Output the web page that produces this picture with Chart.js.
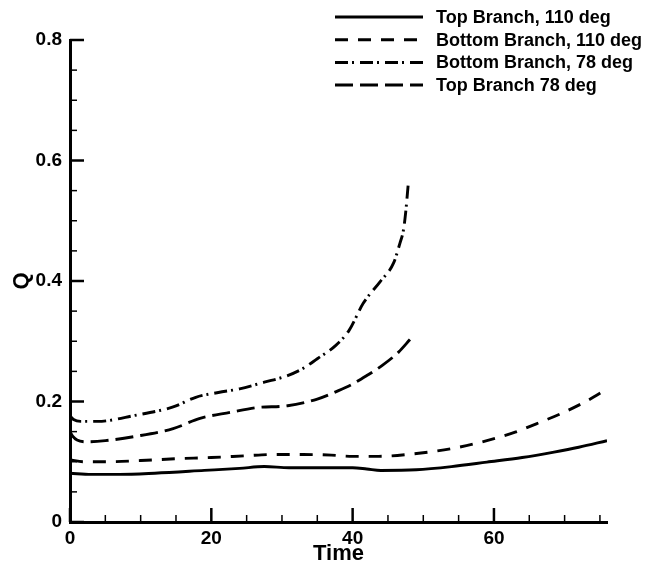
<!DOCTYPE html>
<html>
<head>
<meta charset="utf-8">
<script src="https://cdn.jsdelivr.net/npm/chart.js@4.4.0/dist/chart.umd.min.js"></script>
<style>
  html, body { margin: 0; padding: 0; background: #fff; }
</style>
</head>
<body>
<canvas id="qChart" width="652" height="566"></canvas>
<script>
// Q vs Time for the two branches at 110 and 78 deg
const topBranch110Time = [0, 3, 7, 12, 19, 24, 27.5, 31, 36, 40, 42, 44, 49, 54, 59, 64, 68.5, 72, 76];
const topBranch110Q = [0.081, 0.079, 0.079, 0.081, 0.0856, 0.089, 0.092, 0.090, 0.090, 0.090, 0.088, 0.0856, 0.0867, 0.092, 0.0994, 0.107, 0.116, 0.124, 0.135];

const bottomBranch110Time = [0, 2, 5, 10, 15, 20, 25, 28.6, 33, 37, 40, 43.7, 48.5, 52, 55, 59, 63, 66, 69.5, 73, 76];
const bottomBranch110Q = [0.103, 0.100, 0.100, 0.102, 0.105, 0.107, 0.110, 0.112, 0.112, 0.111, 0.109, 0.109, 0.113, 0.118, 0.124, 0.135, 0.149, 0.163, 0.180, 0.200, 0.221];

const bottomBranch78Time = [0, 0.5, 1.5, 3.9, 9.2, 14.6, 17.8, 21, 24, 27.5, 30.8, 33, 35, 37.5, 39.5, 41.5, 43.9, 45.8, 46.7, 47.2, 47.5, 47.9];
const bottomBranch78Q = [0.176, 0.170, 0.167, 0.167, 0.177, 0.191, 0.207, 0.215, 0.221, 0.232, 0.243, 0.255, 0.271, 0.292, 0.318, 0.363, 0.399, 0.430, 0.463, 0.485, 0.513, 0.565];

const topBranch78Time = [0, 0.4, 1, 2.3, 5, 9.2, 14.6, 18.4, 22.7, 26.5, 30.8, 35, 38, 40, 42, 44.2, 46.5, 48.2];
const topBranch78Q = [0.150, 0.142, 0.136, 0.133, 0.135, 0.142, 0.155, 0.172, 0.182, 0.190, 0.193, 0.204, 0.218, 0.229, 0.243, 0.260, 0.282, 0.304];

const seriesLabels = ['Top Branch, 110 deg', 'Bottom Branch, 110 deg', 'Bottom Branch, 78 deg', 'Top Branch 78 deg'];
const xTitle = 'Time';
const yTitle = 'Q';

const toPoints = (xs, ys) => xs.map((t, i) => ({ x: t, y: ys[i] }));

const dashes = [[], [13, 10], [13, 4, 2, 6], [18, 7]];
const series = [
  toPoints(topBranch110Time, topBranch110Q),
  toPoints(bottomBranch110Time, bottomBranch110Q),
  toPoints(bottomBranch78Time, bottomBranch78Q),
  toPoints(topBranch78Time, topBranch78Q)
];

const FONT = '"Liberation Sans", Arial, sans-serif';

// inward tick marks like the original plot
const axisTicks = {
  id: 'axisTicks',
  afterDatasetsDraw(chart) {
    const { ctx, chartArea: a, scales: { x, y } } = chart;
    ctx.save();
    ctx.strokeStyle = '#000';
    for (let v = 0; v <= 75; v += 5) {
      const px = x.getPixelForValue(v);
      const major = v % 20 === 0;
      ctx.lineWidth = major ? 2.5 : 1.5;
      ctx.beginPath();
      ctx.moveTo(px, a.bottom);
      ctx.lineTo(px, a.bottom - (major ? 14 : 7));
      ctx.stroke();
    }
    for (let i = 0; i <= 16; i++) {
      const py = y.getPixelForValue(i * 0.05);
      const major = i % 4 === 0;
      ctx.lineWidth = major ? 2.5 : 1.5;
      ctx.beginPath();
      ctx.moveTo(a.left, py);
      ctx.lineTo(a.left + (major ? 14 : 7), py);
      ctx.stroke();
    }
    ctx.restore();
  }
};

// legend drawn as line samples, one row per series
const lineLegend = {
  id: 'lineLegend',
  afterDraw(chart) {
    const ctx = chart.ctx;
    chart.data.datasets.forEach((ds, i) => {
      const yy = 17 + i * 22.7;
      ctx.save();
      ctx.strokeStyle = '#000';
      ctx.lineWidth = 3;
      ctx.setLineDash(ds.borderDash || []);
      ctx.beginPath();
      ctx.moveTo(335, yy);
      ctx.lineTo(423, yy);
      ctx.stroke();
      ctx.setLineDash([]);
      ctx.fillStyle = '#000';
      ctx.font = 'bold 18px ' + FONT;
      ctx.textBaseline = 'middle';
      ctx.fillText(ds.label, 436, yy + 1);
      ctx.restore();
    });
  }
};

new Chart(document.getElementById('qChart'), {
  type: 'line',
  data: {
    datasets: series.map((pts, i) => ({
      label: seriesLabels[i],
      data: pts,
      borderColor: '#000',
      borderWidth: 2.9,
      borderDash: dashes[i],
      pointRadius: 0,
      fill: false,
      cubicInterpolationMode: 'monotone'
    }))
  },
  options: {
    responsive: false,
    animation: false,
    layout: { padding: { top: 40, right: 45, left: 0, bottom: 0 } },
    plugins: {
      legend: { display: false },
      tooltip: { enabled: false }
    },
    scales: {
      x: {
        type: 'linear',
        min: 0,
        max: 76,
        grid: { display: false, drawTicks: false },
        border: { display: true, width: 3, color: '#000' },
        ticks: {
          stepSize: 20,
          includeBounds: false,
          padding: 5,
          color: '#000',
          font: { family: FONT, size: 19, weight: 'bold' }
        },
        title: {
          display: true,
          text: xTitle,
          color: '#000',
          font: { family: FONT, size: 22, weight: 'bold' },
          padding: { top: 0, bottom: -1 }
        },
        afterFit(scale) { scale.height = 44; }
      },
      y: {
        min: 0,
        max: 0.8,
        grid: { display: false, drawTicks: false },
        border: { display: true, width: 3, color: '#000' },
        ticks: {
          stepSize: 0.2,
          padding: 8,
          color: '#000',
          font: { family: FONT, size: 19, weight: 'bold' }
        },
        title: {
          display: true,
          text: yTitle,
          color: '#000',
          font: { family: FONT, size: 22, weight: 'bold' },
          padding: { top: 9, bottom: 0 }
        },
        afterFit(scale) { scale.width = 70; }
      }
    }
  },
  plugins: [axisTicks, lineLegend]
});
</script>
</body>
</html>
